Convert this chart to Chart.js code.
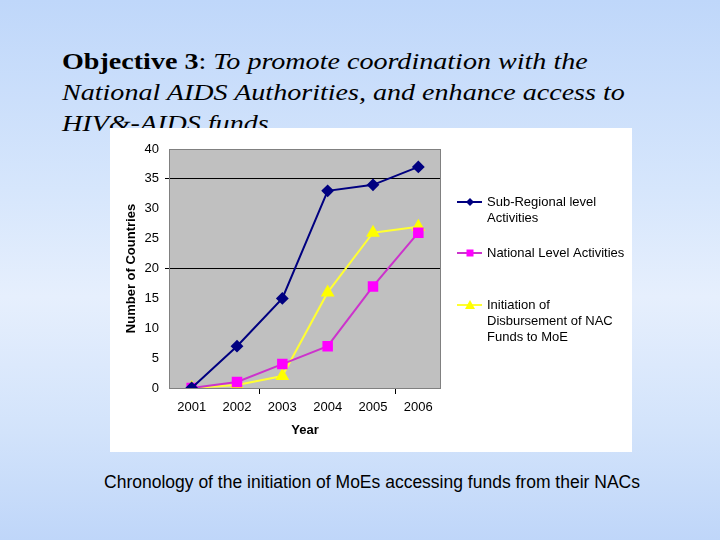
<!DOCTYPE html>
<html>
<head>
<meta charset="utf-8">
<script src="https://cdn.jsdelivr.net/npm/chart.js@4.4.0/dist/chart.umd.min.js"></script>
<style>
    html, body {
        margin: 0;
        padding: 0;
    }
    body {
        width: 720px;
        height: 540px;
        position: relative;
        overflow: hidden;
        background: linear-gradient(to bottom, #bfd7fa 0%, #d6e6fc 35%, #e6effd 55%, #d2e3fb 80%, #bfd6f9 100%);
    }
    #title {
        position: absolute;
        left: 62px;
        top: 46px;
        white-space: nowrap;
        font-family: "Liberation Serif", "Times New Roman", serif;
        font-size: 24px;
        line-height: 31px;
        color: #000;
        transform: scaleX(1.17);
        transform-origin: left top;
    }
    #title b { font-style: normal; }
    #title i { font-style: italic; }
    #chartBox {
        position: absolute;
        left: 110px;
        top: 128px;
        width: 522px;
        height: 324px;
        background: #fff;
    }
    #caption {
        position: absolute;
        left: 0;
        width: 744px;
        top: 472px;
        text-align: center;
        font-family: "Liberation Sans", Arial, sans-serif;
        font-size: 17.5px;
        color: #000;
    }
</style>
</head>
<body>
<div id="title"><b>Objective 3</b>: <i>To promote coordination with the</i><br><i>National AIDS Authorities, and enhance access to</i><br><i>HIV&amp;-AIDS funds</i></div>
<div id="chartBox"><canvas id="aidsChart" width="522" height="324"></canvas></div>
<div id="caption">Chronology of the initiation of MoEs accessing funds from their NACs</div>

<script>
// Jahre (Kategorien)
const years = ['2001', '2002', '2003', '2004', '2005', '2006'];

// Werte pro Serie
const subRegional = [0, 7, 15, 33, 34, 37];
const national = [0, 1, 4, 7, 17, 26];
const initiation = [0, 0.5, 2, 16, 26, 27];

// Legendentexte (mit Zeilenumbruch wie im Original)
const legendSubRegional = ['Sub-Regional level', 'Activities'];
const legendNational = ['National Level Activities'];
const legendInitiation = ['Initiation of', 'Disbursement of NAC', 'Funds to MoE'];

// Achsen
const yMin = 0;
const yMax = 40;
const yStep = 5;
const gridValues = [20, 35];

const font = "'Liberation Sans', Arial, sans-serif";

// Grauer Plotbereich mit Rahmen
const plotBackground = {
    id: 'plotBackground',
    beforeDraw(chart) {
        const { ctx, chartArea } = chart;
        ctx.save();
        ctx.fillStyle = '#c0c0c0';
        ctx.fillRect(chartArea.left, chartArea.top, chartArea.right - chartArea.left, chartArea.bottom - chartArea.top);
        ctx.restore();
    },
    afterDatasetsDraw(chart) {
        const { ctx, chartArea } = chart;
        ctx.save();
        ctx.strokeStyle = '#808080';
        ctx.lineWidth = 1;
        ctx.strokeRect(chartArea.left + 0.5, chartArea.top + 0.5, chartArea.right - chartArea.left - 1, chartArea.bottom - chartArea.top);
        ctx.restore();
    }
};

// Marker zeichnen (für die eigene Legende)
function drawMarker(ctx, style, x, y, r, color) {
    ctx.fillStyle = color;
    ctx.beginPath();
    if (style === 'rectRot') {
        ctx.moveTo(x, y - r);
        ctx.lineTo(x + r, y);
        ctx.lineTo(x, y + r);
        ctx.lineTo(x - r, y);
    } else if (style === 'rect') {
        ctx.rect(x - r, y - r, 2 * r, 2 * r);
    } else {
        ctx.moveTo(x, y - r);
        ctx.lineTo(x + r, y + r * 0.8);
        ctx.lineTo(x - r, y + r * 0.8);
    }
    ctx.closePath();
    ctx.fill();
}

// Eigene Legende rechts (mehrzeilige Einträge)
const sideLegend = {
    id: 'sideLegend',
    afterDraw(chart) {
        const { ctx } = chart;
        const startY = [74, 125, 177];
        const lineH = 16;
        ctx.save();
        ctx.font = '13px ' + font;
        ctx.textBaseline = 'middle';
        ctx.textAlign = 'left';
        chart.data.datasets.forEach((ds, i) => {
            const y = startY[i];
            ctx.strokeStyle = ds.borderColor;
            ctx.lineWidth = 2;
            ctx.beginPath();
            ctx.moveTo(347, y);
            ctx.lineTo(372, y);
            ctx.stroke();
            drawMarker(ctx, ds.pointStyle, 360, y, ds.legendMarker, ds.pointBackgroundColor);
            ctx.fillStyle = '#000';
            ds.legendLines.forEach((line, j) => {
                ctx.fillText(line, 377, y + j * lineH);
            });
        });
        ctx.restore();
    }
};

const ctx = document.getElementById('aidsChart').getContext('2d');
new Chart(ctx, {
    type: 'line',
    data: {
        labels: years,
        datasets: [{
            label: legendSubRegional.join(' '),
            legendLines: legendSubRegional,
            data: subRegional,
            borderColor: '#000080',
            pointBackgroundColor: '#000080',
            pointBorderColor: '#000080',
            pointStyle: 'rectRot',
            pointRadius: 5,
            legendMarker: 4,
            borderWidth: 2,
            tension: 0
        }, {
            label: legendNational.join(' '),
            legendLines: legendNational,
            data: national,
            borderColor: '#cc33cc',
            pointBackgroundColor: '#ff00ff',
            pointBorderColor: '#ff00ff',
            pointStyle: 'rect',
            pointRadius: 6,
            legendMarker: 3.5,
            borderWidth: 2,
            tension: 0
        }, {
            label: legendInitiation.join(' '),
            legendLines: legendInitiation,
            data: initiation,
            borderColor: '#ffff33',
            pointBackgroundColor: '#ffff00',
            pointBorderColor: '#ffff00',
            pointStyle: 'triangle',
            pointRadius: 6,
            legendMarker: 5,
            borderWidth: 2,
            tension: 0
        }]
    },
    options: {
        responsive: false,
        animation: false,
        devicePixelRatio: 1,
        layout: {
            padding: { top: 21, right: 191, left: 0, bottom: 0 }
        },
        scales: {
            x: {
                offset: true,
                afterFit: scale => { scale.height = 64; },
                grid: {
                    offset: true,
                    drawOnChartArea: false,
                    tickLength: 6,
                    color: c => (c.index === 2 || c.index === 5) ? '#000' : 'rgba(0,0,0,0)'
                },
                border: { display: false },
                ticks: {
                    color: '#000',
                    padding: 6,
                    maxRotation: 0,
                    font: { family: font, size: 13 }
                },
                title: {
                    display: true,
                    text: 'Year',
                    color: '#000',
                    padding: { top: 0, bottom: 14 },
                    font: { family: font, size: 13, weight: 'bold' }
                }
            },
            y: {
                min: yMin,
                max: yMax,
                afterFit: scale => { scale.width = 59; },
                grid: {
                    tickLength: 4,
                    color: c => (c.tick && gridValues.includes(c.tick.value)) ? '#000' : 'rgba(0,0,0,0)'
                },
                border: { display: false },
                ticks: {
                    stepSize: yStep,
                    color: '#000',
                    padding: 6,
                    font: { family: font, size: 13 }
                },
                title: {
                    display: true,
                    text: 'Number of Countries',
                    color: '#000',
                    padding: { top: 14, bottom: 0 },
                    font: { family: font, size: 13, weight: 'bold' }
                }
            }
        },
        plugins: {
            legend: { display: false },
            tooltip: { enabled: false }
        }
    },
    plugins: [plotBackground, sideLegend]
});
</script>
</body>
</html>
